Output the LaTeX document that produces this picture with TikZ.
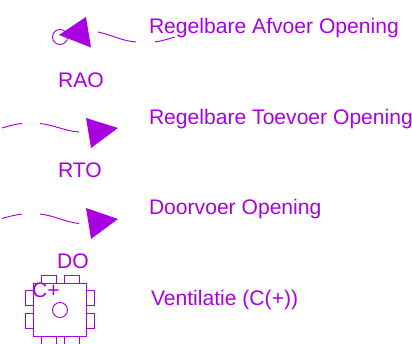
\documentclass[tikz,border=0pt]{standalone}
\usepackage{fontspec}
\setmainfont{Liberation Sans}
\definecolor{vent}{RGB}{170,0,225}
\tikzset{
  lbl/.style={inner sep=0pt,outer sep=0pt,text=vent,font=\fontsize{21.1}{24}\selectfont,anchor=base west},
  sym/.style={inner sep=0pt,outer sep=0pt,text=vent,font=\fontsize{21.1}{24}\selectfont,anchor=base},
  wire/.style={draw=vent,line width=0.95pt},
  tip/.style={fill=vent,draw=none}
}
\begin{document}
\begin{tikzpicture}[x=1pt,y=-1pt]
\useasboundingbox (0,0) rectangle (412,344);
% RAO
\draw[wire] (60,37) circle (7.5);
\fill[tip] (86,17) -- (91,47.5) -- (59,35) -- cycle;
\draw[wire] (98,32) .. controls (112,35) and (122,41) .. (136,42);
\draw[wire] (155,42) .. controls (162,41) and (168,39) .. (175,37);
\node[sym] (rao) at (81,88) {RAO};
\node[lbl] (t1) at (149,34) {Regelbare Afvoer Opening};
% RTO
\fill[tip] (86,118) -- (118,128) -- (91,148) -- cycle;
\draw[wire] (2,128) .. controls (9,126) and (15,124) .. (22,123.5);
\draw[wire] (40,123.5) .. controls (54,125) and (65,131) .. (79,132);
\node[sym] (rto) at (80,178) {RTO};
\node[lbl] (t2) at (149,125) {Regelbare Toevoer Opening};
% DO
\fill[tip] (86,208) -- (118,219) -- (91,239) -- cycle;
\draw[wire] (2,218.5) .. controls (9,216.5) and (15,215) .. (22,214);
\draw[wire] (40,214) .. controls (54,215.5) and (65,222) .. (79,223.5);
\node[sym] (do) at (73,269) {DO};
\node[lbl] (t3) at (149,215) {Doorvoer Opening};
% Ventilatie
\draw[wire] (33,283) rectangle (86,336);
\foreach \x in {41,64} {
  \draw[wire] (\x,275) rectangle ++(15.5,8);
  \draw[wire] (\x,336) rectangle ++(15.5,8);
}
\foreach \y in {290,313} {
  \draw[wire] (25,\y) rectangle ++(8,15);
  \draw[wire] (86,\y) rectangle ++(8,15);
}
\draw[wire] (60,310) circle (7.5);
\node[sym] (cp) at (46,298) {C+};
\node[lbl] (t4) at (151,306) {Ventilatie (C(+))};
\end{tikzpicture}
\end{document}
